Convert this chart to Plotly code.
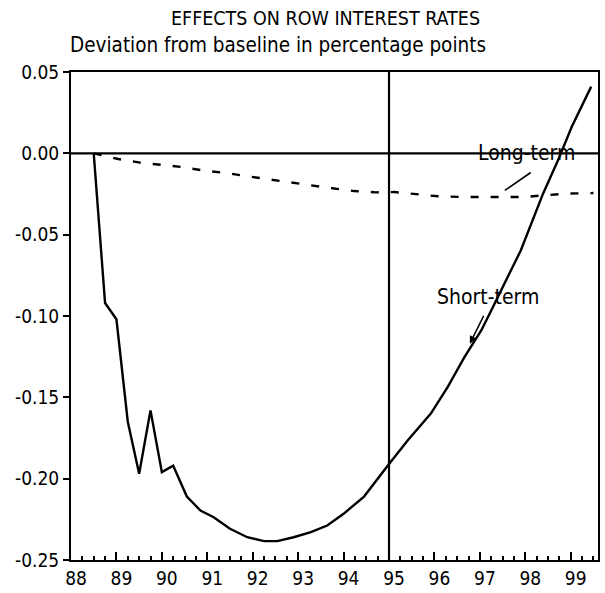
import plotly.graph_objects as go

# Data (decimal years)
short_x = [88.5, 88.75, 89.0, 89.25, 89.5, 89.75, 90.0, 90.25, 90.55, 90.85, 91.14, 91.5,
           91.88, 92.25, 92.54, 92.9, 93.28, 93.64, 94.0, 94.45, 95.0, 95.41, 95.92, 96.29,
           96.66, 97.03, 97.25, 97.54, 97.9, 98.39, 98.72, 99.02, 99.45]
short_y = [0.0, -0.092, -0.102, -0.165, -0.197, -0.158, -0.196, -0.192, -0.211, -0.2196, -0.2237, -0.2308,
           -0.236, -0.2384, -0.2384, -0.236, -0.2329, -0.2288, -0.2216, -0.211, -0.191, -0.1765, -0.160, -0.1437,
           -0.1253, -0.1089, -0.0966, -0.0801, -0.0597, -0.0248, -0.0043, 0.0162, 0.041]

long_x = [88.5, 89.04, 89.52, 90.0, 90.44, 90.96, 91.4, 91.88, 92.36, 92.83, 93.28, 93.75,
          94.23, 94.71, 95.12, 95.63, 96.07, 96.59, 97.03, 97.51, 97.99, 98.43, 98.9, 99.5]
long_y = [0.0, -0.0035, -0.0057, -0.007, -0.0084, -0.0108, -0.012, -0.0141, -0.0161, -0.0178, -0.0199, -0.0215,
          -0.0232, -0.024, -0.0238, -0.0254, -0.0264, -0.0268, -0.0268, -0.0268, -0.0268, -0.0258, -0.0248, -0.0244]

x_ticks = list(range(88, 100))
x_tick_labels = [str(v) for v in x_ticks]
y_ticks = [0.05, 0.0, -0.05, -0.10, -0.15, -0.20, -0.25]
y_tick_labels = ["0.05", "0.00", "-0.05", "-0.10", "-0.15", "-0.20", "-0.25"]

FONT = "Liberation Sans Narrow, Arial Narrow, DejaVu Sans Condensed, sans-serif"

fig = go.Figure()
fig.add_trace(go.Scatter(x=short_x, y=short_y, mode="lines",
                         line=dict(color="black", width=2.4), name="Short-term"))
fig.add_trace(go.Scatter(x=long_x, y=long_y, mode="lines",
                         line=dict(color="black", width=2.4, dash="8px,12px"), name="Long-term"))

shapes = [
    dict(type="line", xref="x", yref="y", x0=95, x1=95, y0=-0.25, y1=0.05,
         line=dict(color="black", width=2.2)),
    dict(type="line", xref="paper", yref="y", x0=0, x1=1, y0=0, y1=0,
         line=dict(color="black", width=2.2)),
    dict(type="line", xref="x", yref="y", x0=97.55, x1=98.12, y0=-0.0228, y1=-0.0118,
         line=dict(color="black", width=1.6)),
]

annotations = [
    dict(xref="paper", yref="paper", x=0.482, y=1.0, yshift=54, text="EFFECTS ON ROW INTEREST RATES",
         showarrow=False, font=dict(family=FONT, size=19.5, color="black"), xanchor="center", yanchor="middle"),
    dict(xref="paper", yref="paper", x=0.0, y=1.0, yshift=27, xshift=-3,
         text="Deviation from baseline in percentage points",
         showarrow=False, font=dict(family=FONT, size=20.5, color="black"), xanchor="left", yanchor="middle"),
    dict(xref="x", yref="y", x=98.02, y=0.0, text="Long-term", showarrow=False,
         font=dict(family=FONT, size=21, color="black"), xanchor="center", yanchor="middle"),
    dict(xref="x", yref="y", x=96.78, y=-0.117, ax=97.1, ay=-0.099, axref="x", ayref="y",
         text="", showarrow=True, arrowhead=2, arrowsize=1, arrowwidth=1.5, arrowcolor="black"),
    dict(xref="x", yref="y", x=97.18, y=-0.0886, text="Short-term", showarrow=False,
         font=dict(family=FONT, size=21, color="black"), xanchor="center", yanchor="middle"),
]

fig.update_layout(
    width=605, height=593,
    margin=dict(l=71, r=7, t=72, b=33),
    paper_bgcolor="white", plot_bgcolor="white",
    showlegend=False,
    shapes=shapes,
    annotations=annotations,
)

fig.update_xaxes(range=[88, 99.6], tickvals=x_ticks, ticktext=x_tick_labels,
                 ticks="inside", ticklen=8, tickwidth=2, tickcolor="black",
                 showline=True, linewidth=2, linecolor="black", mirror=True,
                 showgrid=False, zeroline=False, ticklabelshift=5, automargin=False,
                 tickfont=dict(family=FONT, size=19, color="black"),
                 minor=dict(dtick=0.25, tick0=88, ticks="inside", ticklen=4, tickwidth=2,
                            tickcolor="black", showgrid=False))
fig.update_yaxes(range=[-0.25, 0.05], tickvals=y_ticks, ticktext=y_tick_labels,
                 ticks="outside", ticklen=6, tickwidth=2, tickcolor="black",
                 showline=True, linewidth=2, linecolor="black", mirror=True,
                 showgrid=False, zeroline=False, automargin=False,
                 tickfont=dict(family=FONT, size=19, color="black"))

fig.write_html("out.html", config={"displayModeBar": False},
               post_script="document.body.style.margin='0';document.body.style.overflow='hidden';")
